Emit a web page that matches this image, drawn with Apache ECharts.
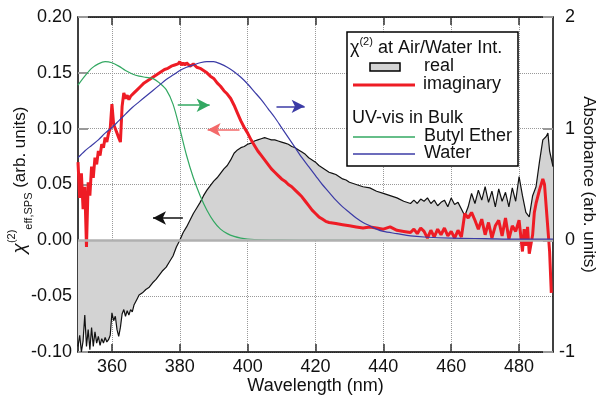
<!DOCTYPE html>
<html>
<head>
<meta charset="utf-8">
<script src="https://cdn.jsdelivr.net/npm/echarts@6/dist/echarts.min.js"></script>
<style>
  html, body { margin: 0; padding: 0; background: #fff; }
  #chart { width: 602px; height: 396px; }
</style>
</head>
<body>
<div id="chart"></div>
<script>
// chi(2) real part at air/water interface (left axis)
const wlReal = [350, 350.5, 351, 351.5, 352, 352.5, 353, 353.5, 354, 354.5, 355, 355.5, 356, 356.5, 357, 357.5, 358, 358.5, 359, 359.5,
  360, 360.5, 361, 361.5, 362, 362.5, 363, 363.5, 364, 364.5, 365, 365.5, 366, 366.5, 367, 367.5, 368, 369, 370, 371,
  372, 373, 374, 375, 376, 377, 378, 379, 380, 381, 382, 383, 384, 385, 386, 387, 388, 389, 390, 391,
  392, 393, 394, 395, 396, 397, 398, 399, 400, 401, 402, 403, 404, 405, 406, 407, 408, 409, 410, 411,
  412, 413, 414, 415, 416, 417, 418, 419, 420, 421, 422, 423, 424, 425, 426, 427, 428, 429, 430, 432,
  434, 436, 438, 440, 442, 444, 446, 448, 449, 450, 451, 452, 453, 454, 455, 456, 457, 458, 459, 460,
  461, 462, 463, 464, 465, 466, 467, 468, 469, 470, 471, 472, 473, 474, 475, 476, 477, 478, 479, 480,
  481, 482, 483, 484, 485, 486, 487, 488, 488.5, 489, 490]
const realVals = [-0.095, -0.085, -0.100, -0.090, -0.067, -0.095, -0.080, -0.098, -0.078, -0.095, -0.082, -0.092, -0.086, -0.094, -0.088, -0.092, -0.087, -0.091, -0.089, -0.085,
  -0.065, -0.072, -0.068, -0.080, -0.086, -0.078, -0.066, -0.062, -0.068, -0.063, -0.067, -0.062, -0.064, -0.058, -0.055, -0.052, -0.049, -0.047, -0.044, -0.042,
  -0.038, -0.035, -0.031, -0.027, -0.024, -0.019, -0.014, -0.006, 0.000, 0.007, 0.012, 0.018, 0.024, 0.029, 0.034, 0.040, 0.045, 0.049, 0.053, 0.056,
  0.060, 0.064, 0.067, 0.072, 0.078, 0.081, 0.083, 0.084, 0.086, 0.087, 0.089, 0.090, 0.091, 0.092, 0.091, 0.090, 0.090, 0.089, 0.088, 0.087,
  0.086, 0.084, 0.083, 0.081, 0.079, 0.077, 0.074, 0.072, 0.070, 0.067, 0.065, 0.063, 0.061, 0.060, 0.059, 0.057, 0.055, 0.054, 0.052, 0.050,
  0.048, 0.047, 0.044, 0.042, 0.040, 0.038, 0.035, 0.033, 0.036, 0.033, 0.037, 0.035, 0.038, 0.033, 0.036, 0.031, 0.034, 0.036, 0.030, 0.038,
  0.032, 0.034, 0.028, 0.022, 0.030, 0.042, 0.033, 0.045, 0.036, 0.048, 0.034, 0.044, 0.030, 0.046, 0.035, 0.043, 0.030, 0.047, 0.035, 0.057,
  0.040, 0.025, 0.021, 0.040, 0.048, 0.070, 0.090, 0.093, 0.096, 0.080, 0.066]

// chi(2) imaginary part (left axis)
const wlImag = [350, 350.5, 351, 351.5, 352, 352.5, 353, 353.5, 354, 354.5, 355, 355.5, 356, 356.5, 357, 357.5, 358, 358.5, 359, 359.5,
  360, 360.5, 361, 361.5, 362, 362.5, 363, 363.5, 364, 364.5, 365, 365.5, 366, 366.5, 367, 367.5, 368, 368.5, 369, 369.5,
  370, 370.5, 371, 371.5, 372, 372.5, 373, 373.5, 374, 374.5, 375, 375.5, 376, 376.5, 377, 377.5, 378, 378.5, 379, 379.5,
  380, 380.5, 381, 381.5, 382, 383, 384, 385, 386, 387, 388, 389, 390, 391, 392, 393, 394, 395, 396, 397,
  398, 399, 400, 401, 402, 403, 404, 405, 406, 407, 408, 409, 410, 411, 412, 413, 414, 415, 416, 417,
  418, 419, 420, 421, 422, 423, 424, 426, 428, 430, 432, 434, 436, 438, 440, 442, 444, 446, 448, 449,
  450, 451, 452, 453, 454, 455, 456, 457, 458, 459, 460, 461, 462, 463, 464, 465, 466, 467, 468, 469,
  470, 471, 472, 473, 474, 475, 476, 477, 478, 479, 480, 481, 481.5, 482, 482.5, 483, 484, 484.5, 485, 486,
  487, 487.5, 488, 489, 489.5]
const imagVals = [0.070, 0.038, 0.060, 0.028, 0.048, -0.006, 0.052, 0.040, 0.066, 0.056, 0.074, 0.068, 0.080, 0.076, 0.086, 0.083, 0.092, 0.088, 0.096, 0.100,
  0.122, 0.104, 0.100, 0.096, 0.092, 0.088, 0.120, 0.132, 0.127, 0.130, 0.126, 0.129, 0.128, 0.132, 0.131, 0.135, 0.134, 0.138, 0.137, 0.141,
  0.140, 0.143, 0.142, 0.145, 0.144, 0.147, 0.146, 0.149, 0.148, 0.151, 0.150, 0.153, 0.152, 0.154, 0.153, 0.156, 0.155, 0.157, 0.156, 0.158,
  0.160, 0.157, 0.159, 0.157, 0.159, 0.156, 0.158, 0.155, 0.154, 0.152, 0.150, 0.147, 0.145, 0.141, 0.138, 0.134, 0.131, 0.127, 0.121, 0.114,
  0.107, 0.101, 0.096, 0.090, 0.085, 0.080, 0.076, 0.072, 0.068, 0.064, 0.061, 0.058, 0.055, 0.053, 0.050, 0.048, 0.045, 0.042, 0.039, 0.035,
  0.031, 0.027, 0.024, 0.021, 0.019, 0.017, 0.016, 0.015, 0.014, 0.013, 0.012, 0.011, 0.012, 0.011, 0.010, 0.012, 0.009, 0.008, 0.007, 0.010,
  0.006, 0.011, 0.008, 0.002, 0.009, 0.003, 0.010, 0.005, 0.011, 0.004, 0.008, 0.002, 0.009, 0.003, 0.024, 0.020, 0.025, 0.018, 0.010, 0.019,
  0.005, 0.016, 0.002, 0.013, 0.018, 0.004, 0.020, 0.001, 0.013, 0.008, 0.018, -0.010, 0.010, -0.005, 0.012, -0.012, 0.005, 0.025, 0.033, 0.045,
  0.055, 0.050, 0.030, -0.010, -0.047]

// UV-vis absorbance in bulk (right axis)
const wlButyl = [350, 352, 354, 356, 358, 360, 362, 364, 366, 368, 370, 372, 374, 376, 378, 380, 382, 384, 386, 388,
  390, 392, 394, 396, 398, 400, 404, 410, 420, 440, 460, 490]
const butylVals = [1.39, 1.47, 1.54, 1.58, 1.60, 1.59, 1.56, 1.52, 1.49, 1.47, 1.46, 1.45, 1.41, 1.35, 1.22, 1.00, 0.76, 0.56, 0.40, 0.27,
  0.17, 0.10, 0.06, 0.035, 0.02, 0.012, 0.005, 0.001, 0, 0, 0, 0]

const wlWater = [350, 352, 354, 356, 358, 360, 362, 364, 366, 368, 370, 372, 374, 376, 378, 380, 382, 384, 386, 388,
  390, 392, 394, 396, 398, 400, 402, 404, 406, 408, 410, 412, 414, 416, 418, 420, 422, 424, 426, 428,
  430, 432, 434, 436, 438, 440, 444, 448, 452, 460, 470, 480, 490]
const waterVals = [0.74, 0.80, 0.85, 0.90, 0.96, 1.01, 1.07, 1.13, 1.19, 1.24, 1.29, 1.34, 1.39, 1.44, 1.48, 1.52, 1.55, 1.57, 1.59, 1.60,
  1.60, 1.58, 1.55, 1.51, 1.46, 1.40, 1.33, 1.26, 1.18, 1.10, 1.01, 0.92, 0.83, 0.74, 0.66, 0.58, 0.50, 0.43, 0.36, 0.30,
  0.25, 0.20, 0.16, 0.13, 0.10, 0.08, 0.06, 0.04, 0.03, 0.02, 0.015, 0.01, 0.01]

const xTicks = [360, 380, 400, 420, 440, 460, 480]

const FONT = 'Liberation Sans, Arial, Helvetica, sans-serif'
const RED = '#ee1c25'
const GREEN = '#33a862'
const BLUE = '#3b3ba6'
const GREY = '#d3d3d3'

const pairs = (xs, ys) => xs.map((x, i) => [x, ys[i]])

const chart = echarts.init(document.getElementById('chart'))

const option = {
  animation: false,
  backgroundColor: '#fff',
  textStyle: { fontFamily: FONT },
  grid: { left: 78, right: 49, top: 17, bottom: 44, outerBoundsMode: 'none' },
  xAxis: [
    {
      type: 'value', min: 350, max: 490, position: 'bottom',
      axisLine: { onZero: false, lineStyle: { color: '#000', width: 1.5 } },
      axisTick: { inside: true, length: 8, customValues: xTicks, lineStyle: { color: '#333', width: 1.5 } },
      axisLabel: { customValues: xTicks, margin: 6, fontSize: 18, color: '#111', fontFamily: FONT },
      splitLine: { show: true, lineStyle: { type: 'dotted', color: '#999', width: 1 } },
      name: 'Wavelength (nm)', nameLocation: 'middle', nameGap: 25, nameMoveOverlap: false,
      nameTextStyle: { fontSize: 18, color: '#111', fontFamily: FONT }
    },
    {
      type: 'value', min: 350, max: 490, position: 'top',
      axisLine: { onZero: false, lineStyle: { color: '#000', width: 1.5 } },
      axisTick: { inside: true, length: 8, customValues: xTicks, lineStyle: { color: '#333', width: 1.5 } },
      axisLabel: { show: false },
      splitLine: { show: false }
    }
  ],
  yAxis: [
    {
      type: 'value', min: -0.1, max: 0.2, interval: 0.05, position: 'left',
      axisLine: { show: true, onZero: false, lineStyle: { color: '#000', width: 1.5 } },
      axisTick: { show: true, inside: true, length: 10, lineStyle: { color: '#999', width: 2 } },
      axisLabel: {
        margin: 6, fontSize: 18, color: '#111', fontFamily: FONT,
        formatter: v => (Math.abs(v) < 1e-9 ? 0 : v).toFixed(2)
      },
      splitLine: { show: true, lineStyle: { type: 'dotted', color: '#999', width: 1 } }
    },
    {
      type: 'value', min: -1, max: 2, interval: 1, position: 'right',
      axisLine: { show: true, onZero: false, lineStyle: { color: '#000', width: 1.5 } },
      axisTick: { show: true, inside: true, length: 10, lineStyle: { color: '#999', width: 2 } },
      axisLabel: { align: 'right', margin: 22, fontSize: 18, color: '#111', fontFamily: FONT },
      splitLine: { show: false },
      name: 'Absorbance (arb. units)', nameLocation: 'middle', nameRotate: -90, nameGap: 27, nameMoveOverlap: false,
      nameTextStyle: { fontSize: 17, color: '#111', fontFamily: FONT }
    }
  ],
  series: [
    {
      name: 'real', type: 'line', xAxisIndex: 0, yAxisIndex: 0, z: 2,
      data: pairs(wlReal, realVals),
      showSymbol: false, symbol: 'none',
      lineStyle: { color: '#111', width: 1.2 },
      areaStyle: { color: GREY, opacity: 1 },
      markLine: {
        silent: true, symbol: 'none', animation: false, label: { show: false },
        data: [
          { yAxis: 0, lineStyle: { color: '#b0b0b0', width: 2.5, type: 'solid' } },
          [
            { coord: [372.1, 0.02], symbol: 'arrow', symbolSize: [10, 13], lineStyle: { color: '#111', width: 1.5, type: 'solid' } },
            { coord: [380.9, 0.02], symbol: 'none' }
          ]
        ]
      }
    },
    {
      name: 'imaginary', type: 'line', xAxisIndex: 0, yAxisIndex: 0, z: 3,
      data: pairs(wlImag, imagVals),
      showSymbol: false, symbol: 'none',
      lineStyle: { color: RED, width: 3 },
      markLine: {
        silent: true, symbol: 'none', animation: false, label: { show: false },
        data: [[
          { coord: [388.2, 0.099], symbol: 'arrow', symbolSize: [10, 13], lineStyle: { color: '#f36a6a', width: 1.5, type: 'solid' } },
          { coord: [397.6, 0.099], symbol: 'none' }
        ]]
      }
    },
    {
      name: 'Butyl Ether', type: 'line', xAxisIndex: 0, yAxisIndex: 1, z: 4,
      data: pairs(wlButyl, butylVals),
      showSymbol: false, symbol: 'none', smooth: 0.3,
      lineStyle: { color: GREEN, width: 1.2 },
      markLine: {
        silent: true, symbol: 'none', animation: false, label: { show: false },
        data: [[
          { coord: [379.4, 1.21], symbol: 'none', lineStyle: { color: GREEN, width: 1.5, type: 'solid' } },
          { coord: [388.8, 1.21], symbol: 'arrow', symbolSize: [10, 13] }
        ]]
      }
    },
    {
      name: 'Water', type: 'line', xAxisIndex: 0, yAxisIndex: 1, z: 5,
      data: pairs(wlWater, waterVals),
      showSymbol: false, symbol: 'none', smooth: 0.3,
      lineStyle: { color: BLUE, width: 1.2 },
      markLine: {
        silent: true, symbol: 'none', animation: false, label: { show: false },
        data: [[
          { coord: [408.5, 1.20], symbol: 'none', lineStyle: { color: BLUE, width: 1.5, type: 'solid' } },
          { coord: [416.8, 1.20], symbol: 'arrow', symbolSize: [10, 13] }
        ]]
      }
    }
  ],
  graphic: [
    // left axis title
    {
      type: 'text', x: 20, y: 180, rotation: Math.PI / 2, z: 50,
      style: {
        text: '{c|χ}{sup|(2)}{sub|eff,SPS}{t| (arb. units)}',
        align: 'center', verticalAlign: 'middle', fill: '#111', fontFamily: FONT,
        rich: {
          c: { fontSize: 19, fontStyle: 'italic', lineHeight: 28, verticalAlign: 'middle', fontFamily: FONT },
          sup: { fontSize: 11, verticalAlign: 'top', fontFamily: FONT },
          sub: { fontSize: 11, verticalAlign: 'bottom', fontFamily: FONT },
          t: { fontSize: 17, verticalAlign: 'middle', fontFamily: FONT }
        }
      }
    },
    // legend box
    {
      type: 'rect', z: 100,
      shape: { x: 347, y: 32, width: 171, height: 134 },
      style: { fill: '#fff', stroke: '#000', lineWidth: 1.5 }
    },
    {
      type: 'text', x: 350, y: 48, z: 101,
      style: {
        text: '{t|χ}{sup|(2)}{t| at Air/Water Int.}',
        align: 'left', verticalAlign: 'middle', fill: '#111',
        rich: {
          t: { fontSize: 18, lineHeight: 24, verticalAlign: 'middle', fontFamily: FONT },
          sup: { fontSize: 11, verticalAlign: 'top', fontFamily: FONT }
        }
      }
    },
    {
      type: 'rect', z: 101,
      shape: { x: 370, y: 63, width: 30, height: 8 },
      style: { fill: GREY, stroke: '#000', lineWidth: 1.5 }
    },
    {
      type: 'text', x: 424, y: 66, z: 101,
      style: { text: 'real', fontSize: 18, fontFamily: FONT, fill: '#111', align: 'left', verticalAlign: 'middle' }
    },
    {
      type: 'line', z: 101,
      shape: { x1: 353, y1: 85, x2: 415, y2: 85 },
      style: { stroke: RED, lineWidth: 3 }
    },
    {
      type: 'text', x: 423, y: 84, z: 101,
      style: { text: 'imaginary', fontSize: 18, fontFamily: FONT, fill: '#111', align: 'left', verticalAlign: 'middle' }
    },
    {
      type: 'text', x: 352, y: 118, z: 101,
      style: { text: 'UV-vis in Bulk', fontSize: 18, fontFamily: FONT, fill: '#111', align: 'left', verticalAlign: 'middle' }
    },
    {
      type: 'line', z: 101,
      shape: { x1: 353, y1: 137, x2: 415, y2: 137 },
      style: { stroke: GREEN, lineWidth: 1.5 }
    },
    {
      type: 'text', x: 424, y: 136, z: 101,
      style: { text: 'Butyl Ether', fontSize: 18, fontFamily: FONT, fill: '#111', align: 'left', verticalAlign: 'middle' }
    },
    {
      type: 'line', z: 101,
      shape: { x1: 353, y1: 154, x2: 415, y2: 154 },
      style: { stroke: BLUE, lineWidth: 1.5 }
    },
    {
      type: 'text', x: 424, y: 153, z: 101,
      style: { text: 'Water', fontSize: 18, fontFamily: FONT, fill: '#111', align: 'left', verticalAlign: 'middle' }
    }
  ]
}

chart.setOption(option)
</script>
</body>
</html>
